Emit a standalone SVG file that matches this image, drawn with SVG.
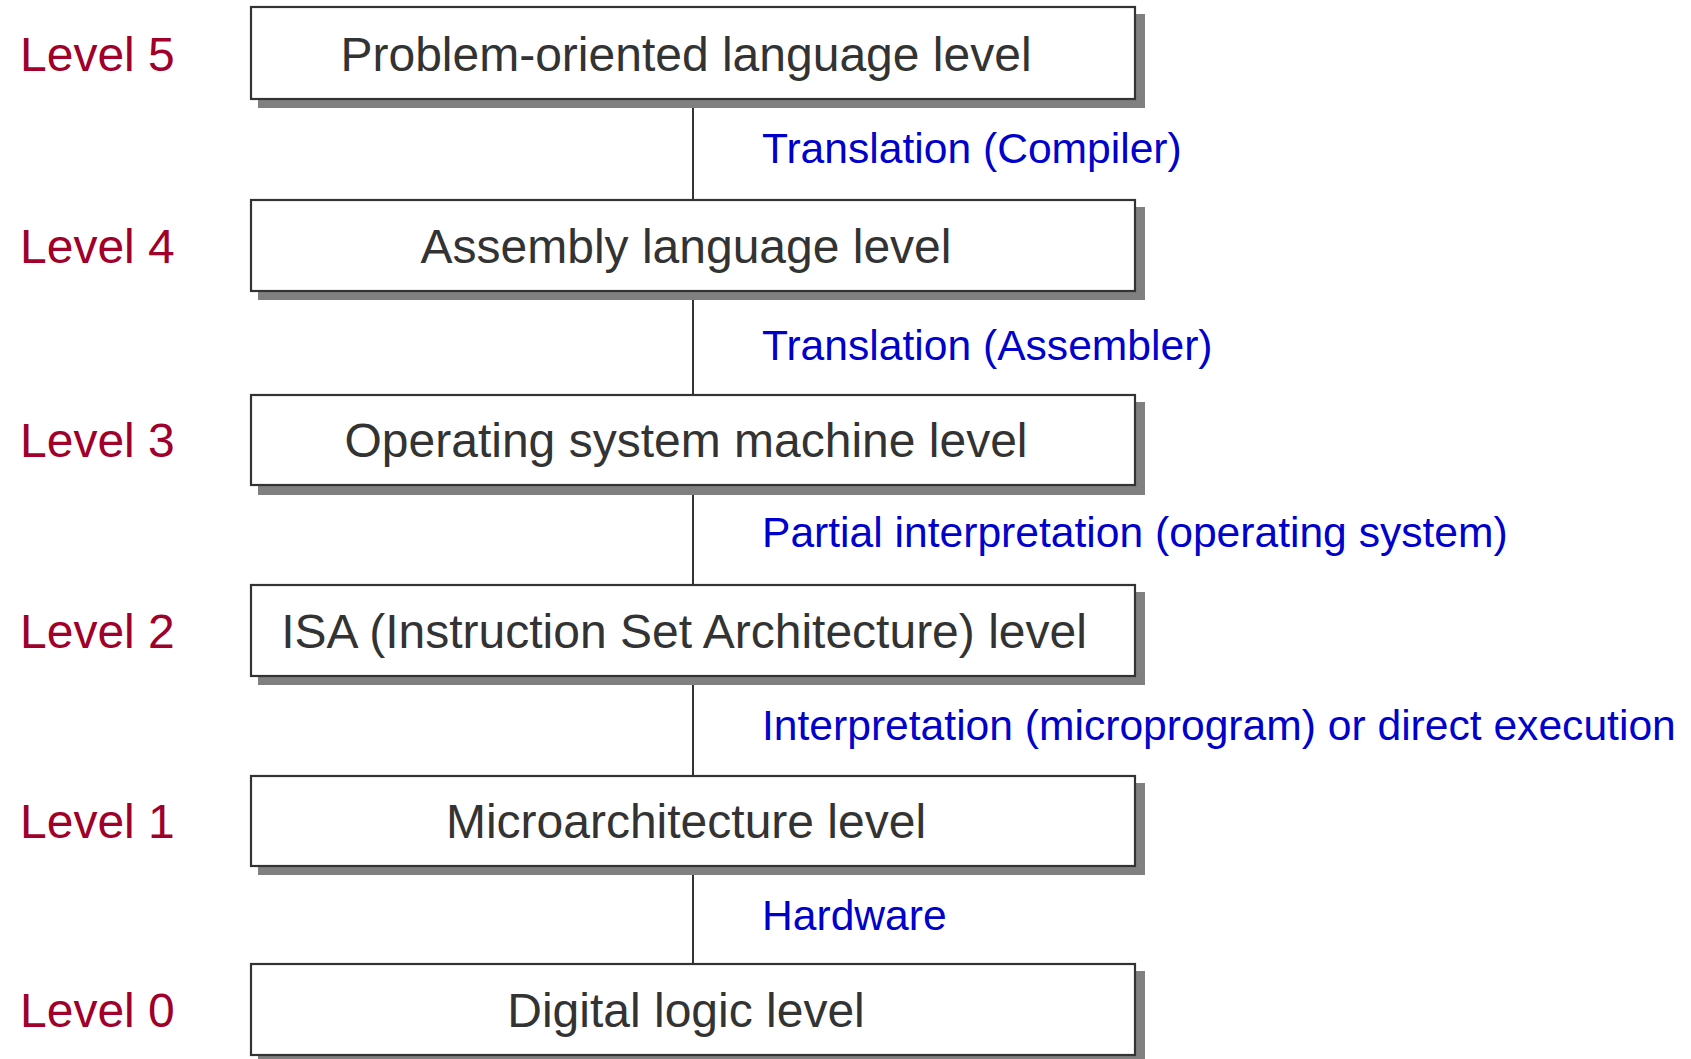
<svg xmlns="http://www.w3.org/2000/svg" width="1691" height="1059" viewBox="0 0 1691 1059">
<style>
.box{fill:#ffffff;stroke:#333333;stroke-width:2.2}
.shadow{fill:#808080}
.label{font-family:"Liberation Sans",Arial,sans-serif;font-size:48px;fill:#333333;text-anchor:middle}
.level{font-family:"Liberation Sans",Arial,sans-serif;font-size:48px;fill:#a0002a}
.edge{font-family:"Liberation Sans",Arial,sans-serif;font-size:42.6px;fill:#0000cc}
.conn{stroke:#333333;stroke-width:2;fill:none}
</style>
<rect width="1691" height="1059" fill="#ffffff"/>
<g id="connectors">
<line class="conn" x1="693" y1="99" x2="693" y2="200"/>
<line class="conn" x1="693" y1="291" x2="693" y2="395"/>
<line class="conn" x1="693" y1="485" x2="693" y2="585"/>
<line class="conn" x1="693" y1="676" x2="693" y2="776"/>
<line class="conn" x1="693" y1="866" x2="693" y2="964"/>
<text class="edge" x="762" y="163">Translation (Compiler)</text>
<text class="edge" x="762" y="360">Translation (Assembler)</text>
<text class="edge" x="762" y="547">Partial interpretation (operating system)</text>
<text class="edge" x="762" y="740">Interpretation (microprogram) or direct execution</text>
<text class="edge" x="762" y="930">Hardware</text>
</g>
<g id="level5">
<rect class="shadow" x="258" y="14" width="887" height="94"/>
<rect class="box" x="251" y="7" width="884" height="92"/>
<text class="label" x="686" y="71">Problem-oriented language level</text>
<text class="level" x="20" y="71">Level 5</text>
</g>
<g id="level4">
<rect class="shadow" x="258" y="207" width="887" height="93"/>
<rect class="box" x="251" y="200" width="884" height="91"/>
<text class="label" x="686" y="263">Assembly language level</text>
<text class="level" x="20" y="263">Level 4</text>
</g>
<g id="level3">
<rect class="shadow" x="258" y="402" width="887" height="93"/>
<rect class="box" x="251" y="395" width="884" height="90"/>
<text class="label" x="686" y="457">Operating system machine level</text>
<text class="level" x="20" y="457">Level 3</text>
</g>
<g id="level2">
<rect class="shadow" x="258" y="592" width="887" height="93"/>
<rect class="box" x="251" y="585" width="884" height="91"/>
<text class="label" x="684" y="648">ISA (Instruction Set Architecture) level</text>
<text class="level" x="20" y="648">Level 2</text>
</g>
<g id="level1">
<rect class="shadow" x="258" y="783" width="887" height="92"/>
<rect class="box" x="251" y="776" width="884" height="90"/>
<text class="label" x="686" y="838">Microarchitecture level</text>
<text class="level" x="20" y="838">Level 1</text>
</g>
<g id="level0">
<rect class="shadow" x="258" y="971" width="887" height="93"/>
<rect class="box" x="251" y="964" width="884" height="91"/>
<text class="label" x="686" y="1027">Digital logic level</text>
<text class="level" x="20" y="1027">Level 0</text>
</g>
</svg>
